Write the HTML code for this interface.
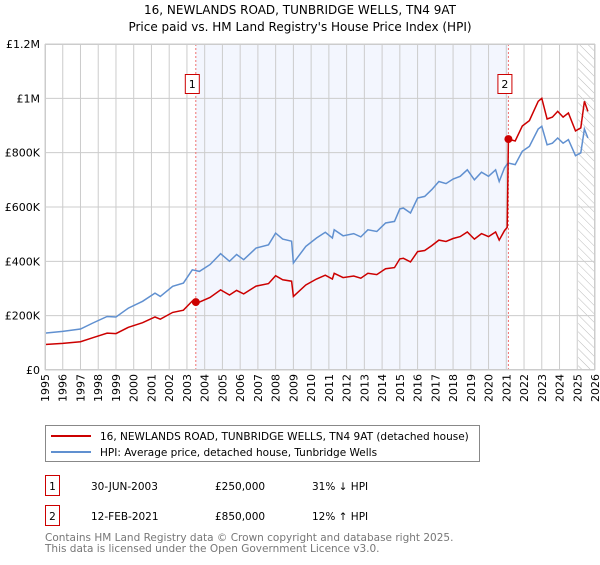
<!DOCTYPE html>
<html><head><meta charset="utf-8"><style>
body{margin:0;background:#fff;font-family:"Liberation Sans","DejaVu Sans",sans-serif;}
svg text{font-family:"DejaVu Sans","Liberation Sans",sans-serif;}
</style></head><body>
<svg id="c" width="600" height="560" xmlns="http://www.w3.org/2000/svg">
<defs><pattern id="hatch" width="6" height="6" patternUnits="userSpaceOnUse" patternTransform="rotate(-45)"><line x1="0" y1="0" x2="0" y2="6" stroke="#bbb" stroke-width="1"/></pattern></defs>
<text x="300" y="14" text-anchor="middle" font-size="12" fill="#000">16, NEWLANDS ROAD, TUNBRIDGE WELLS, TN4 9AT</text>
<text x="300" y="31" text-anchor="middle" font-size="12" fill="#000">Price paid vs. HM Land Registry's House Price Index (HPI)</text>
<g id="plot"></g>
<g>
<rect x="45.5" y="425.5" width="434" height="36" fill="#fff" stroke="#888"/>
<line x1="51" y1="436" x2="91" y2="436" stroke="#cc0000" stroke-width="2"/>
<text x="100" y="440" font-size="10.5">16, NEWLANDS ROAD, TUNBRIDGE WELLS, TN4 9AT (detached house)</text>
<line x1="51" y1="452" x2="91" y2="452" stroke="#6090d0" stroke-width="2"/>
<text x="100" y="456" font-size="10.5">HPI: Average price, detached house, Tunbridge Wells</text>
</g>
<g font-size="10.5">
<rect x="45.5" y="475.5" width="14" height="20" fill="none" stroke="#cc0000"/>
<text x="52.5" y="490" text-anchor="middle">1</text>
<text x="91" y="490">30-JUN-2003</text><text x="215" y="490">£250,000</text><text x="312" y="490">31% ↓ HPI</text>
<rect x="45.5" y="505.5" width="14" height="20" fill="none" stroke="#cc0000"/>
<text x="52.5" y="520" text-anchor="middle">2</text>
<text x="91" y="520">12-FEB-2021</text><text x="215" y="520">£850,000</text><text x="312" y="520">12% ↑ HPI</text>
</g>
<text x="45" y="541" font-size="10.5" fill="#777">Contains HM Land Registry data © Crown copyright and database right 2025.</text>
<text x="45" y="552" font-size="10.5" fill="#777">This data is licensed under the Open Government Licence v3.0.</text>
</svg>
<script>
const hpiYears=[1995,1996,1997,1997.7,1998.5,1999,1999.7,2000.5,2001.2,2001.5,2002.2,2002.8,2003.3,2003.7,2004.3,2004.9,2005.4,2005.8,2006.2,2006.9,2007.6,2008.0,2008.4,2008.9,2009.0,2009.7,2010.3,2010.8,2011.2,2011.3,2011.8,2012.4,2012.8,2013.2,2013.7,2014.2,2014.7,2015.0,2015.2,2015.6,2016.0,2016.4,2016.8,2017.2,2017.6,2018.0,2018.4,2018.8,2019.2,2019.6,2020.0,2020.4,2020.6,2020.9,2021.1,2021.5,2021.9,2022.3,2022.8,2023.0,2023.3,2023.6,2023.9,2024.2,2024.5,2024.9,2025.2,2025.4,2025.6];
const hpiValues=[136,142,151,173,197,195,228,253,283,271,308,320,369,363,388,428,400,425,406,449,461,504,482,474,394,455,486,507,486,516,494,502,490,516,510,541,547,593,596,578,633,639,664,694,686,703,713,737,700,728,713,737,694,744,762,756,805,823,887,897,829,835,854,835,848,789,799,887,854];
const priceYears=[1995,1996,1997,1997.7,1998.5,1999,1999.7,2000.5,2001.2,2001.5,2002.2,2002.8,2003.3,2003.7,2004.3,2004.9,2005.4,2005.8,2006.2,2006.9,2007.6,2008.0,2008.4,2008.9,2009.0,2009.7,2010.3,2010.8,2011.2,2011.3,2011.8,2012.4,2012.8,2013.2,2013.7,2014.2,2014.7,2015.0,2015.2,2015.6,2016.0,2016.4,2016.8,2017.2,2017.6,2018.0,2018.4,2018.8,2019.2,2019.6,2020.0,2020.4,2020.6,2020.9,2021.05,2021.12,2021.5,2021.9,2022.3,2022.8,2023.0,2023.3,2023.6,2023.9,2024.2,2024.5,2024.9,2025.2,2025.4,2025.6];
const priceValues=[94,98,104,119,136,134,157,174,195,187,212,220,254,250,267,295,276,293,280,309,318,347,332,327,271,313,335,349,335,356,340,346,338,356,351,373,377,409,411,398,436,440,458,478,473,484,491,508,482,502,491,508,478,513,525,850,843,898,918,989,1000,924,931,952,931,946,880,891,989,952];
const saleYears=[2003.5,2021.12];
const saleValues=[250,850];
const saleLabels=["1","2"];
const yTicks=[0,200,400,600,800,1000,1200];
const yTickLabels=["£0","£200K","£400K","£600K","£800K","£1M","£1.2M"];
const xTicks=[1995,1996,1997,1998,1999,2000,2001,2002,2003,2004,2005,2006,2007,2008,2009,2010,2011,2012,2013,2014,2015,2016,2017,2018,2019,2020,2021,2022,2023,2024,2025,2026];

const L=45,R=595,T=44,B=370;
const xs=y=>L+(y-1995)/(2026-1995)*(R-L);
const ys=v=>B-v/1200*(B-T);
const NS="http://www.w3.org/2000/svg";
const g=document.getElementById('plot');
function mk(tag,attrs){const e=document.createElementNS(NS,tag);for(const k in attrs)e.setAttribute(k,attrs[k]);g.appendChild(e);return e;}
let e;
e=mk('rect',{x:L,y:T,width:R-L,height:B-T,fill:'#fff'});


e=mk('rect',{x:xs(saleYears[0]),y:T,width:xs(saleYears[1])-xs(saleYears[0]),height:B-T,fill:'#f3f6fe'});


e=mk('rect',{x:xs(2025.05),y:T,width:R-xs(2025.05),height:B-T,fill:'url(#hatch)'});


xTicks.forEach(t=>{
 e=mk('line',{x1:xs(t),x2:xs(t),y1:T,y2:B,stroke:'#ccc','stroke-width':1});
 
 
 e=mk('text',{x:0,y:0,'font-size':11,'text-anchor':'end',transform:`translate(${xs(t)+4},${B+4}) rotate(-90)`});
 e.textContent=t;
 
 
});
yTicks.forEach((t,i)=>{
 e=mk('line',{x1:L,x2:R,y1:ys(t),y2:ys(t),stroke:'#ccc','stroke-width':1});
 
 
 e=mk('text',{x:L-5,y:ys(t)+4,'font-size':11,'text-anchor':'end'});
 e.textContent=yTickLabels[i];
 
 
});
saleYears.forEach((s,i)=>{
 e=mk('line',{x1:xs(s),x2:xs(s),y1:T,y2:B,stroke:'#f07070','stroke-width':1,'stroke-dasharray':'2,2'});
 
 
});
function path(xsArr,vArr){
 return vArr.map((v,i)=>(i?'L':'M')+xs(xsArr[i]).toFixed(1)+','+ys(v).toFixed(1)).join('');
}
e=mk('path',{d:path(hpiYears,hpiValues),fill:'none',stroke:'#6090d0','stroke-width':1.5});


e=mk('path',{d:path(priceYears,priceValues),fill:'none',stroke:'#cc0000','stroke-width':1.5});


saleYears.forEach((s,i)=>{
 e=mk('circle',{cx:xs(s),cy:ys(saleValues[i]),r:4,fill:'#cc0000'});
 
 
 e=mk('rect',{x:xs(s)-10.5,y:74.5,width:14,height:19,fill:'#fff',stroke:'#cc0000'});
 
 
 e=mk('text',{x:xs(s)-3.5,y:88,'font-size':11,'text-anchor':'middle'});
 e.textContent=saleLabels[i];
 
 
});
e=mk('rect',{x:L+0.5,y:T+0.5,width:R-L-1,height:B-T-1,fill:'none',stroke:'#ccc'});


</script>
</body></html>
